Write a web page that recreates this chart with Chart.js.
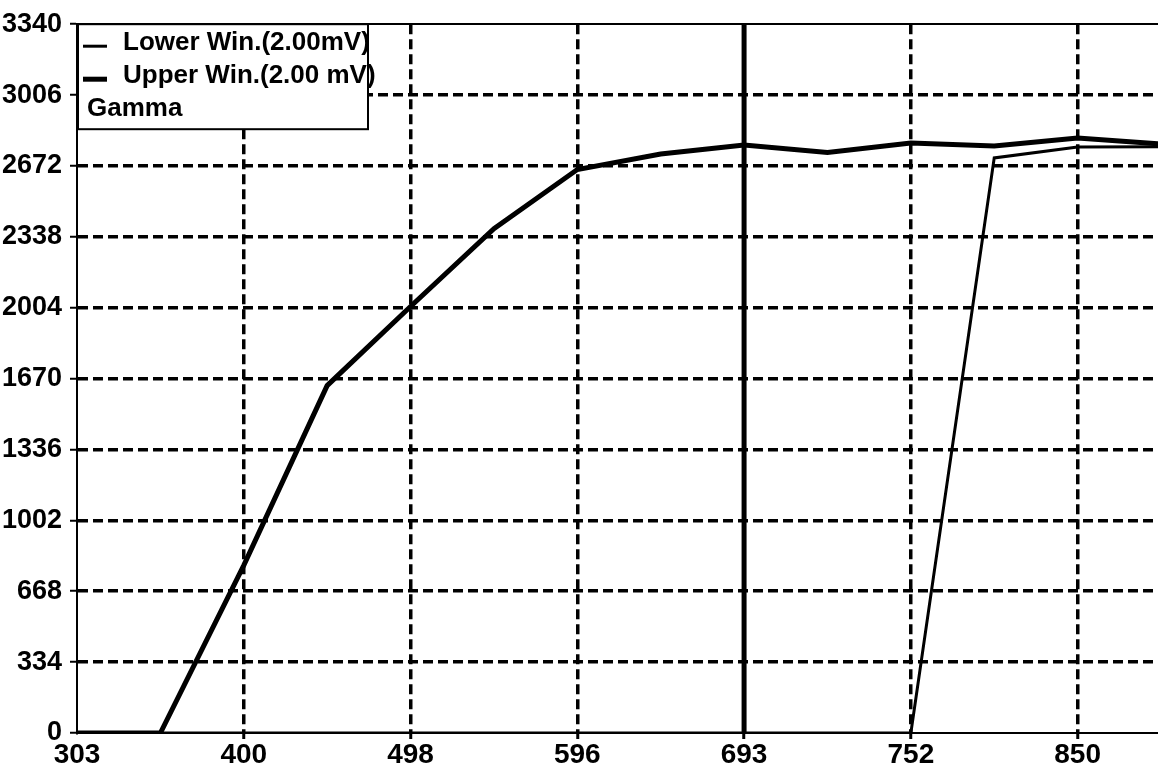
<!DOCTYPE html>
<html>
<head>
<meta charset="utf-8">
<script src="https://cdn.jsdelivr.net/npm/chart.js@4.4.0/dist/chart.umd.min.js"></script>
<style>
    html, body { margin: 0; background: #fff; overflow: hidden; }
</style>
</head>
<body>
<!-- a borda direita do gráfico original fica cortada pela janela -->
<canvas id="chart_gamma" width="1163" height="769"></canvas>
<script>
// Dados
const categorias = ['303', '352', '400', '449', '498', '547', '596', '644', '693', '722', '752', '801', '850', '899'];
const lowerWin = [0, 0, 0, 0, 0, 0, 0, 0, 0, 0, 0, 2710, 2761, 2762];
const upperWin = [0, 0, 790, 1637, 2010, 2376, 2655, 2728, 2771, 2735, 2780, 2766, 2804, 2775];
const marcador = '693'; // linha vertical cheia
const yMax = 3340;
const yPasso = 334;
const tituloLegenda = 'Gamma';

const fonte = '"Liberation Sans", Arial, sans-serif';

const legendaBox = { // Legenda desenhada dentro da área do gráfico
    id: 'legendaBox',
    afterDatasetsDraw(chart) {
        const { ctx, chartArea } = chart;
        const x = chartArea.left;
        const y = chartArea.top;
        ctx.save();
        ctx.fillStyle = '#fff';
        ctx.fillRect(x, y, 291, 105);
        ctx.strokeStyle = '#000';
        ctx.lineWidth = 2;
        ctx.strokeRect(x + 1, y, 290, 105);
        ctx.font = 'bold 26px ' + fonte;
        ctx.textBaseline = 'middle';
        ctx.fillStyle = '#000';
        let linha = y + 19;
        chart.data.datasets.forEach(ds => {
            if (!ds.label) return;
            ctx.lineWidth = ds.borderWidth;
            ctx.beginPath();
            ctx.moveTo(x + 6, linha + 3);
            ctx.lineTo(x + 30, linha + 3);
            ctx.stroke();
            ctx.fillText(ds.label, x + 46, linha);
            linha += 33;
        });
        ctx.fillText(tituloLegenda, x + 10, linha);
        ctx.restore();
    }
};

const ctx = document.getElementById('chart_gamma');

new Chart(ctx, {
    type: 'line',
    data: {
        labels: categorias,
        datasets: [{
            label: 'Lower Win.(2.00mV)',
            data: lowerWin,
            borderColor: '#000',
            borderWidth: 3,
            pointRadius: 0,
            tension: 0
        },
        {
            label: 'Upper Win.(2.00 mV)',
            data: upperWin,
            borderColor: '#000',
            borderWidth: 5,
            pointRadius: 0,
            tension: 0
        },
        {
            label: '',
            data: [{ x: marcador, y: 0 }, { x: marcador, y: yMax }],
            borderColor: '#000',
            borderWidth: 5,
            pointRadius: 0
        }]
    },
    options: {
        responsive: false,
        animation: false,
        devicePixelRatio: 1,
        layout: {
            padding: { top: 22, right: 0, left: 0, bottom: 0 }
        },
        scales: {
            x: {
                type: 'category',
                offset: false,
                grid: {
                    color: c => (c.index > 0 && c.index % 2 === 0) ? '#000' : 'rgba(0,0,0,0)',
                    lineWidth: 3.5,
                    tickLength: 6,
                    tickWidth: 3,
                    tickColor: c => (c.index > 0 && c.index % 2 === 0) ? '#000' : 'rgba(0,0,0,0)'
                },
                border: { display: true, color: '#000', width: 2, dash: [10, 5] },
                ticks: {
                    autoSkip: false,
                    maxRotation: 0,
                    padding: 2,
                    color: '#000',
                    font: { family: fonte, size: 28, weight: 'bold', lineHeight: 1 },
                    callback: function (val, i) {
                        return i % 2 === 0 ? this.getLabelForValue(val) : '';
                    }
                },
                afterFit: s => { s.height = 36; }
            },
            xTopo: {
                type: 'category',
                position: 'top',
                grid: { display: false, drawTicks: false },
                border: { display: true, color: '#000', width: 2 },
                ticks: { display: false },
                afterFit: s => { s.height = 0; }
            },
            y: {
                min: 0,
                max: yMax,
                grid: {
                    color: c => (c.tick.value > 0 && c.tick.value < yMax) ? '#000' : 'rgba(0,0,0,0)',
                    lineWidth: 3.5,
                    tickLength: 7,
                    tickWidth: 2,
                    tickColor: '#000'
                },
                border: { display: true, color: '#000', width: 2, dash: [10, 5] },
                ticks: {
                    stepSize: yPasso,
                    padding: 8,
                    color: '#000',
                    font: { family: fonte, size: 27, weight: 'bold' },
                    callback: v => String(v)
                },
                afterFit: s => { s.width = 77; }
            }
        },
        plugins: {
            legend: { display: false },
            title: { display: false },
            tooltip: { enabled: false }
        }
    },
    plugins: [legendaBox]
});
</script>
</body>
</html>
